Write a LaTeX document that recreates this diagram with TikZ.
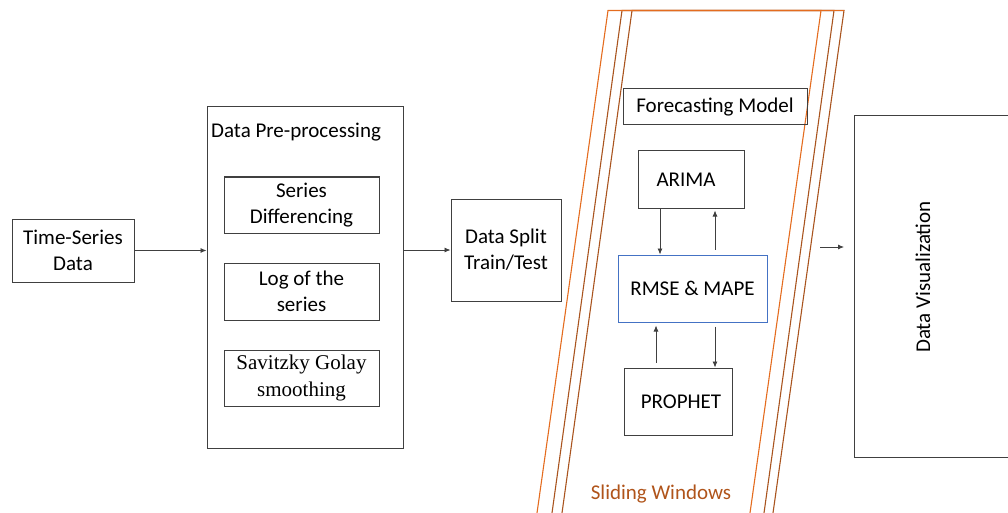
\documentclass[tikz,border=0pt]{standalone}
\usepackage{fontspec}
\setmainfont{Carlito}
\newfontfamily\serifface{Liberation Serif}
\usetikzlibrary{arrows.meta,calc}
\definecolor{boxline}{HTML}{404040}
\definecolor{evalblue}{HTML}{4472C4}
\definecolor{winorange}{HTML}{E46C1F}
\definecolor{winbrown}{HTML}{A9541F}
\definecolor{labelbrown}{HTML}{B0541A}
\tikzset{
  box/.style={draw=boxline, line width=1pt, inner sep=0pt, align=center,
    font=\fontsize{21}{26}\selectfont},
  arr/.style={draw=boxline, line width=0.8pt, -{Latex[length=6pt,width=5pt]}},
  winA/.style={draw=winorange, line width=1.1pt},
  winB/.style={draw=winbrown, line width=1.1pt},
}
\begin{document}
\begin{tikzpicture}[x=1pt,y=-1pt]
\useasboundingbox (0,0) rectangle (1008,513);
\clip (0,0) rectangle (1008,513);

% sliding windows: three overlapping slanted frames
\draw[winB] (562,513) -- (632,10.5) -- (844,10.5) -- (773,513);
\draw[winB] (552,513) -- (622,10.5) -- (834,10.5) -- (764,513);
\draw[winA] (537,513) -- (608,10.5) -- (821,10.5) -- (750,513);
\draw[winA] (608,10.5) -- (844,10.5);
\node[text=labelbrown, font=\fontsize{21}{26}\selectfont] (slide) at (661,494) {Sliding Windows};

% input and pre-processing
\node[box, minimum width=122pt, minimum height=63pt] (ts) at (73,250.5) {Time-Series\\Data};
\node[box, minimum width=196pt, minimum height=341pt] (pre) at (305,277.5) {};
\node[font=\fontsize{21}{26}\selectfont, inner sep=0pt, anchor=west] (pretitle) at (211,132) {Data Pre-processing};
\node[box, minimum width=155pt, minimum height=56pt] (diff) at (301.5,205) {Series\\Differencing};
\node[box, minimum width=155pt, minimum height=57pt] (log) at (301.5,291.5) {Log of the\\series};
\node[box, minimum width=155pt, minimum height=56pt,
      font=\serifface\fontsize{21}{27.5}\selectfont] (sg) at (301.5,378) {Savitzky Golay\\smoothing};

\node[box, minimum width=110pt, minimum height=102pt] (split) at (506,250) {Data Split\\Train/Test};

% forecasting models
\node[box, minimum width=184pt, minimum height=36pt] (fm) at (715,107) {Forecasting Model};
\node[box, minimum width=106pt, minimum height=57pt] (arima) at (691,179.5) {\hspace*{-10pt}ARIMA};
\node[box, draw=evalblue, minimum width=149pt, minimum height=67pt] (rmse) at (692.5,288.5) {RMSE \& MAPE};
\node[box, minimum width=108pt, minimum height=67pt] (prophet) at (678,401.5) {\hspace*{6pt}PROPHET};

% output
\node[box, minimum width=170pt, minimum height=342pt, anchor=north west] (viz) at (854,115) {};
\node[font=\fontsize{21}{26}\selectfont, rotate=90] (vizlabel) at (923,277) {Data Visualization};

% connectors
\draw[arr] (ts.east) -- (ts.east -| pre.west);
\draw[arr] (pre.east |- split.west) -- (split.west);
\draw[arr] ([xshift=-31pt]arima.south) -- ([xshift=-31pt]arima.south |- rmse.north);
\draw[arr] ([xshift=22.5pt,yshift=5pt]rmse.north) -- ([xshift=22.5pt,yshift=-2pt]rmse.north |- arima.south);
\draw[arr] ([xshift=-22pt,yshift=5pt]prophet.north) -- ([xshift=-22pt,yshift=-3pt]prophet.north |- rmse.south);
\draw[arr] ([xshift=22.5pt,yshift=-4pt]rmse.south) -- ([xshift=22.5pt]rmse.south |- prophet.north);
\coordinate (winout) at (820,247);
\draw[arr, shorten >=10pt] (winout) -- (viz.west |- winout);
\end{tikzpicture}
\end{document}
